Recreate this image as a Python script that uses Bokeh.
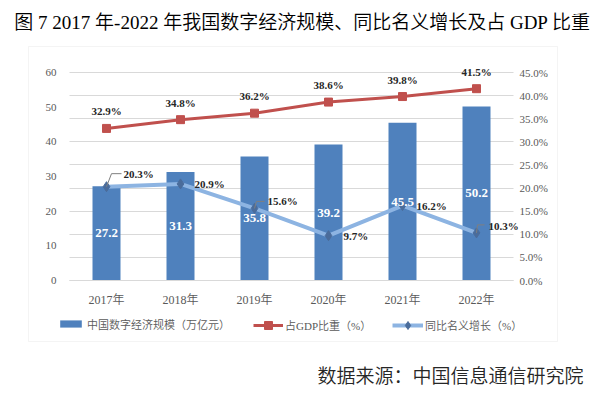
from bokeh.plotting import figure
from bokeh.models import (ColumnDataSource, Range1d, LinearAxis, FixedTicker,
                          PrintfTickFormatter, LabelSet, Label, Legend, LegendItem,
                          BoxAnnotation)
from bokeh.core.properties import value
from bokeh.embed import file_html
from bokeh.resources import INLINE

# ---------------- data ----------------
years = ["2017年", "2018年", "2019年", "2020年", "2021年", "2022年"]
scale = [27.2, 31.3, 35.8, 39.2, 45.5, 50.2]          # 万亿元
gdp_share = [32.9, 34.8, 36.2, 38.6, 39.8, 41.5]      # %
growth = [20.3, 20.9, 15.6, 9.7, 16.2, 10.3]          # %
left_ticks = [0, 10, 20, 30, 40, 50, 60]
right_ticks = [0, 5, 10, 15, 20, 25, 30, 35, 40, 45]

# ---------------- styles / layout ----------------
SERIF = "'Liberation Serif', 'Noto Sans CJK SC DemiLight', 'Noto Sans CJK SC'"
CJK = "'Noto Sans CJK SC DemiLight', 'Noto Sans CJK SC'"
GREY = "#595959"
GRID = "#d9d9d9"
BAR_C = "#4f81bd"
RED_C = "#c0504d"
LINE_C = "#8db4e2"
DIAM_C = "#4a6c9b"

W, H = 605, 399
PL, PR, PT, PB = 69, 513, 72, 280          # plot area (pixels) of the tick spans
BOX = dict(left=28, right=557, top=46, bottom=341)
LMAX, RMAX = left_ticks[-1], right_ticks[-1]
N = len(years)
CAT = (PR - PL) / N                          # px per category
LPX = (PB - PT) / LMAX                       # px per left unit
RPX = (PB - PT) / RMAX                       # px per right unit

# label offsets (screen px) for growth labels
g_xoff = [17, 14, 13, 15, 14, 12]
g_yoff = [12.5, 0, 7, 0, 0, 7]
# leader-line shapes (px) for some growth labels
leaders = {0: [(0, 0), (5, 13), (15, 13)],
           2: [(0, 0), (2, 7), (10, 7)],
           5: [(0, 0), (1, 8), (8, 8)]}

xs = list(range(N))
src = ColumnDataSource(dict(
    x=xs, scale=scale, mid=[v / 2 for v in scale],
    scale_txt=[f"{v:.1f}" for v in scale],
    gdp=gdp_share, gdp_txt=[f"{v:.1f}%" for v in gdp_share],
    growth=growth, growth_txt=[f"{v:.1f}%" for v in growth],
    gxo=g_xoff, gyo=g_yoff,
))

x0 = -0.5 - PL / CAT
x1 = N - 0.5 + (W - PR) / CAT
p = figure(width=W, height=H, output_backend="svg", toolbar_location=None,
           x_range=Range1d(x0, x1),
           y_range=Range1d(-(H - PB) / LPX, LMAX + PT / LPX),
           x_axis_type=None, y_axis_type=None, min_border=0)
p.extra_y_ranges = {"pct": Range1d(-(H - PB) / RPX, RMAX + PT / RPX)}
p.outline_line_color = None
p.grid.visible = False

# chart box
p.add_layout(BoxAnnotation(left=BOX["left"], right=BOX["right"], top=BOX["top"],
                           bottom=BOX["bottom"], left_units="canvas",
                           right_units="canvas", top_units="canvas",
                           bottom_units="canvas", fill_alpha=0,
                           line_color=GRID, line_width=1, level="underlay"))

# right axis (its inward ticks serve as the horizontal grid lines)
ra = LinearAxis(y_range_name="pct", ticker=FixedTicker(ticks=right_ticks),
                formatter=PrintfTickFormatter(format="%.1f%%"),
                fixed_location=N - 0.5)
ra.major_label_text_font = SERIF
ra.major_label_text_font_size = "11px"
ra.major_label_text_color = GREY
ra.axis_line_color = None
ra.major_tick_in = int(PR - PL)
ra.major_tick_out = 0
ra.major_tick_line_color = GRID
ra.minor_tick_line_color = None
ra.major_label_standoff = 6
ra.level = "underlay"
p.add_layout(ra, "right")

la = LinearAxis(ticker=FixedTicker(ticks=left_ticks), fixed_location=-0.5)
la.major_label_text_font = SERIF
la.major_label_text_font_size = "11px"
la.major_label_text_color = GREY
la.axis_line_color = None
la.major_tick_line_color = None
la.minor_tick_line_color = None
la.major_label_standoff = 7
p.add_layout(la, "left")

xa = LinearAxis(ticker=FixedTicker(ticks=xs), fixed_location=0, bounds=(-0.5, N - 0.5))
xa.major_label_overrides = {i: y for i, y in enumerate(years)}
xa.major_label_text_font = SERIF
xa.major_label_text_font_size = "12px"
xa.major_label_text_color = GREY
xa.axis_line_color = GRID
xa.major_tick_line_color = None
xa.minor_tick_line_color = None
xa.major_label_standoff = 6
p.add_layout(xa, "below")

# glyphs
bars = p.vbar(x="x", top="scale", width=28 / 74, source=src,
              fill_color=BAR_C, line_color=None)
rl = p.line(x="x", y="gdp", y_range_name="pct", source=src,
            line_color=RED_C, line_width=3)
rs = p.scatter(x="x", y="gdp", y_range_name="pct", source=src, marker="square",
               size=8, fill_color=RED_C, line_color=RED_C)
bl = p.line(x="x", y="growth", y_range_name="pct", source=src,
            line_color=LINE_C, line_width=4)
bs = p.scatter(x="x", y="growth", y_range_name="pct", source=src, marker="diamond",
               size=10, fill_color=DIAM_C, line_color=DIAM_C)

lx, ly = [], []
for i, pts in leaders.items():
    lx.append([xs[i] + dx / CAT for dx, dy in pts])
    ly.append([growth[i] + dy / RPX for dx, dy in pts])
p.multi_line(xs=lx, ys=ly, y_range_name="pct", line_color="#7f7f7f", line_width=1)

# data labels
p.add_layout(LabelSet(x="x", y="mid", text="scale_txt", source=src,
                      text_align="center", text_baseline="middle",
                      text_color="white", text_font=value(SERIF),
                      text_font_size="13px", text_font_style="bold"))
p.add_layout(LabelSet(x="x", y="gdp", text="gdp_txt", source=src, y_range_name="pct",
                      y_offset=17, text_align="center", text_baseline="middle",
                      text_color="#262626", text_font=value(SERIF),
                      text_font_size="11px", text_font_style="bold"))
p.add_layout(LabelSet(x="x", y="growth", text="growth_txt", source=src, y_range_name="pct",
                      x_offset="gxo", y_offset="gyo", text_align="left",
                      text_baseline="middle",
                      text_color="#262626", text_font=value(SERIF),
                      text_font_size="11px", text_font_style="bold"))


# legends (three, so that each can have its own glyph size)
def mk_legend(label, renderers, loc, gw, gh, standoff):
    lg = Legend(items=[LegendItem(label=label, renderers=renderers)],
                location=loc, orientation="horizontal",
                glyph_width=gw, glyph_height=gh, label_height=gh,
                label_standoff=standoff, padding=0, margin=0, spacing=0,
                border_line_color=None, background_fill_alpha=0,
                label_text_font=SERIF, label_text_font_size="11px",
                label_text_color=GREY)
    p.add_layout(lg)


LEG_CY = H - 325
mk_legend("中国数字经济规模（万亿元）", [bars], (57, LEG_CY - 6.5), 27, 9, 3)
mk_legend("占GDP比重（%）", [rl, rs], (253, LEG_CY - 10), 30, 20, 2)
mk_legend("同比名义增长（%）", [bl, bs], (392, LEG_CY - 10), 31, 20, 2)

# title and source
p.add_layout(Label(x=302, y=H - 22, x_units="screen", y_units="screen",
                   text="图 7 2017 年-2022 年我国数字经济规模、同比名义增长及占 GDP 比重",
                   text_align="center", text_baseline="middle",
                   text_font=SERIF, text_font_size="19px", text_color="#000000"))
p.add_layout(Label(x=583, y=H - 374, x_units="screen", y_units="screen",
                   text="数据来源：中国信息通信研究院",
                   text_align="right", text_baseline="middle",
                   text_font=CJK, text_font_size="19px", text_color="#262626"))

open("out.html", "w").write(file_html(p, INLINE))
